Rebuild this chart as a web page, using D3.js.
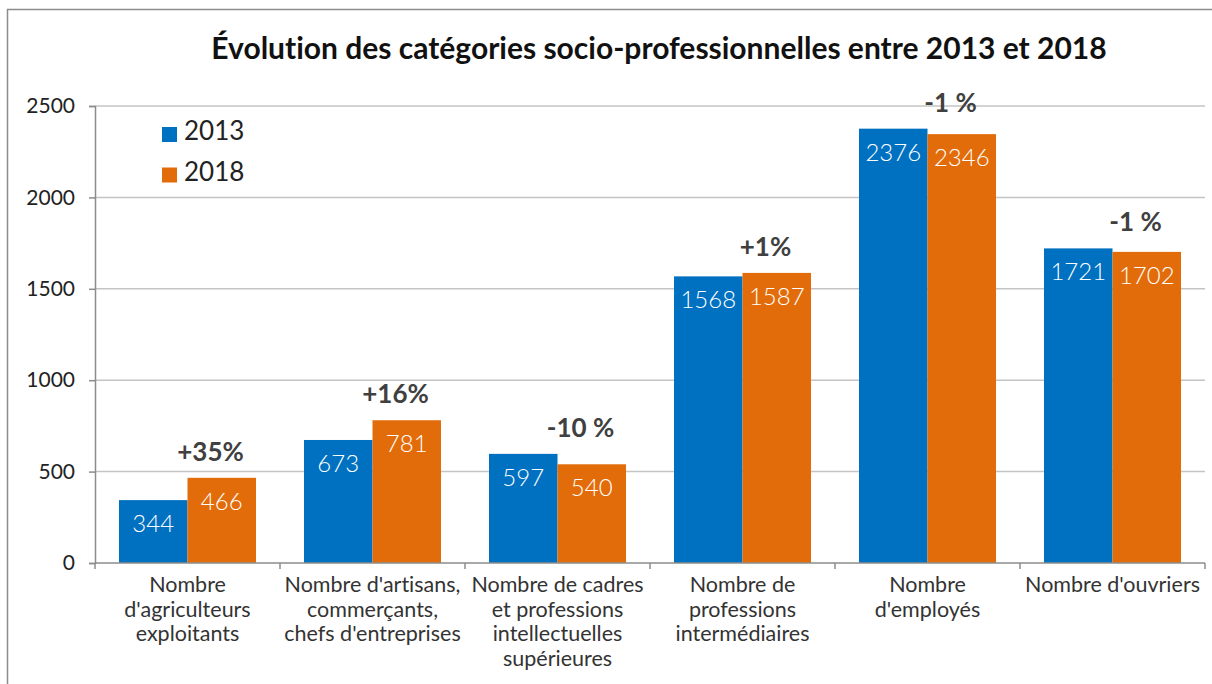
<!DOCTYPE html>
<html>
<head>
<meta charset="utf-8">
<script src="https://cdn.jsdelivr.net/npm/d3@7"></script>
<style>
  body { margin: 0; background: #fff; }
  text { font-family: Lato, "Open Sans", sans-serif; font-variant-ligatures: none; }
</style>
</head>
<body>
<div id="chart"></div>
<script>
// data
var categories = [
  ["Nombre", "d'agriculteurs", "exploitants"],
  ["Nombre d'artisans,", "commerçants,", "chefs d'entreprises"],
  ["Nombre de cadres", "et professions", "intellectuelles", "supérieures"],
  ["Nombre de", "professions", "intermédiaires"],
  ["Nombre", "d'employés"],
  ["Nombre d'ouvriers"]
];
var years = ["2013", "2018"];
var values2013 = [344, 673, 597, 1568, 2376, 1721];
var values2018 = [466, 781, 540, 1587, 2346, 1702];
var changes = ["+35%", "+16%", "-10 %", "+1%", "-1 %", "-1 %"];
var yTicks = [0, 500, 1000, 1500, 2000, 2500];

var svgWidth = 1212;
var svgHeight = 684;
var colors = { "2013": "#0070C0", "2018": "#E36C0A" };

var svg = d3.select('#chart').append('svg')
    .attr('width', svgWidth)
    .attr('height', svgHeight)

// outer frame
svg.append('rect')
    .attr('x', 7.5)
    .attr('y', 9.5)
    .attr('width', svgWidth)
    .attr('height', svgHeight)
    .attr('fill', 'none')
    .attr('stroke', '#8c8c8c')
    .attr('stroke-width', 1.5)

var plot = { left: 95, right: 1205, top: 106, bottom: 563 };

var xScale = d3.scaleBand()
    .domain(d3.range(categories.length))
    .range([plot.left, plot.right])

var xInner = d3.scaleBand()
    .domain(years)
    .range([24, xScale.bandwidth() - 24])

var yScale = d3.scaleLinear()
    .domain([0, 2500])
    .range([plot.bottom, plot.top])

// title
svg.append('text')
    .attr('x', 659)
    .attr('y', 59)
    .attr('text-anchor', 'middle')
    .attr('font-size', 30)
    .attr('font-weight', 'bold')
    .attr('fill', '#111')
    .text('Évolution des catégories socio-professionnelles entre 2013 et 2018')

// gridlines
svg.append('g')
    .selectAll('line')
    .data(yTicks.filter(d => d > 0))
    .enter()
    .append('line')
    .attr('x1', plot.left)
    .attr('x2', plot.right)
    .attr('y1', d => yScale(d))
    .attr('y2', d => yScale(d))
    .attr('stroke', '#c4c4c4')
    .attr('stroke-width', 1.5)

// y axis
var yAxis = svg.append('g')
    .attr('transform', `translate(${plot.left},0)`)
    .call(d3.axisLeft(yScale).tickValues(yTicks).tickSize(6).tickPadding(14).tickFormat(d3.format('d')))
yAxis.select('.domain').attr('stroke', '#8c8c8c').attr('stroke-width', 1.5)
yAxis.selectAll('.tick line').attr('stroke', '#8c8c8c').attr('stroke-width', 1.5)
yAxis.selectAll('.tick text')
    .attr('font-size', 21)
    .attr('fill', '#222')
    .attr('font-family', 'Lato, sans-serif')

// bars
var series = years.map(y => ({ year: y, values: y === "2013" ? values2013 : values2018 }));

var groups = svg.append('g')
    .selectAll('g')
    .data(categories.map((c, i) => i))
    .enter()
    .append('g')
    .attr('transform', i => `translate(${xScale(i)},0)`)

groups.selectAll('rect')
    .data(i => series.map(s => ({ year: s.year, value: s.values[i] })))
    .enter()
    .append('rect')
    .attr('x', d => xInner(d.year))
    .attr('width', xInner.bandwidth())
    .attr('y', d => yScale(d.value))
    .attr('height', d => yScale(0) - yScale(d.value))
    .attr('fill', d => colors[d.year])

groups.selectAll('.val')
    .data(i => series.map(s => ({ year: s.year, value: s.values[i] })))
    .enter()
    .append('text')
    .attr('class', 'val')
    .attr('x', d => xInner(d.year) + xInner.bandwidth() / 2)
    .attr('y', d => yScale(d.value) + 32)
    .attr('text-anchor', 'middle')
    .attr('font-size', 24)
    .attr('font-weight', 300)
    .attr('fill', '#fff')
    .text(d => d.value)

// change labels
groups.append('text')
    .attr('x', xScale.bandwidth() / 2 + 23)
    .attr('y', i => yScale(Math.max(values2013[i], values2018[i])) - 17)
    .attr('text-anchor', 'middle')
    .attr('font-size', 26)
    .attr('font-weight', 'bold')
    .attr('fill', '#404040')
    .text(i => changes[i])

// x axis
var xAxis = svg.append('g')
    .attr('transform', `translate(0,${plot.bottom})`)
xAxis.append('line')
    .attr('x1', plot.left)
    .attr('x2', plot.right)
    .attr('stroke', '#8c8c8c')
    .attr('stroke-width', 1.5)
xAxis.selectAll('.tk')
    .data(d3.range(categories.length + 1))
    .enter()
    .append('line')
    .attr('x1', i => plot.left + i * xScale.step())
    .attr('x2', i => plot.left + i * xScale.step())
    .attr('y1', 0)
    .attr('y2', 6)
    .attr('stroke', '#8c8c8c')
    .attr('stroke-width', 1.5)

xAxis.selectAll('.cat')
    .data(categories)
    .enter()
    .append('text')
    .attr('class', 'cat')
    .attr('text-anchor', 'middle')
    .attr('font-size', 21.5)
    .attr('fill', '#333')
    .attr('transform', (d, i) => `translate(${xScale(i) + xScale.bandwidth() / 2},29)`)
    .selectAll('tspan')
    .data(d => d)
    .enter()
    .append('tspan')
    .attr('x', 0)
    .attr('y', (d, j) => j * 24.5)
    .text(d => d)

// legend
var legend = svg.append('g')
    .selectAll('g')
    .data(years)
    .enter()
    .append('g')
    .attr('transform', (d, i) => `translate(162,${127 + i * 40.5})`)
legend.append('rect')
    .attr('width', 15)
    .attr('height', 15)
    .attr('fill', d => colors[d])
legend.append('text')
    .attr('x', 22)
    .attr('y', 13)
    .attr('font-size', 26)
    .attr('fill', '#222')
    .text(d => d)
</script>
</body>
</html>
